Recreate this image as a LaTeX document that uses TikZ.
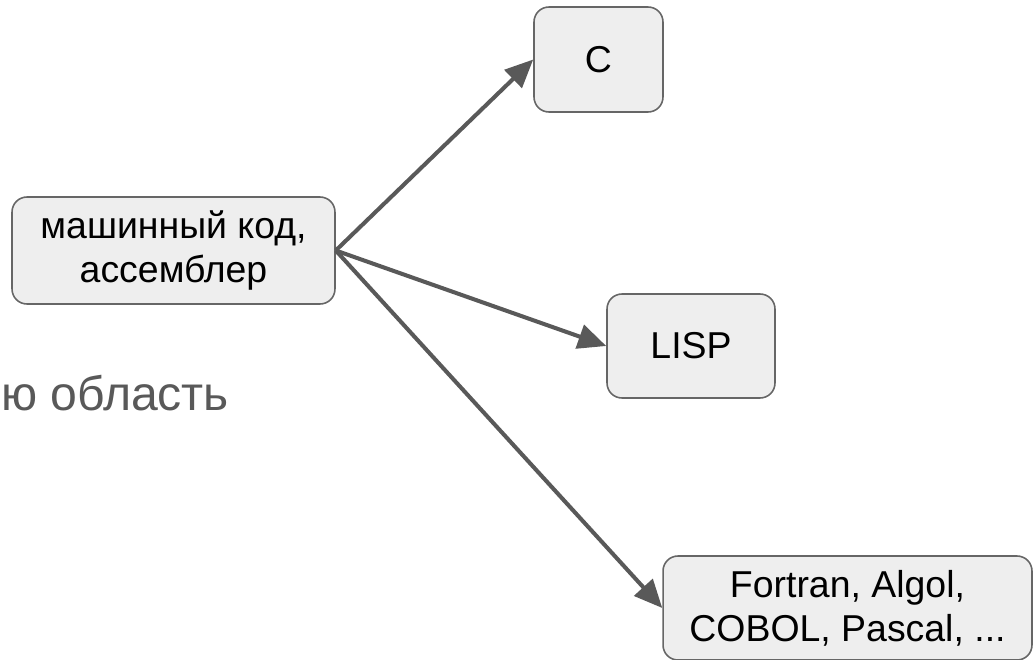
\documentclass[tikz,border=0pt]{standalone}
\usepackage{fontspec}
\setmainfont{Liberation Sans}
\usetikzlibrary{arrows.meta}
\definecolor{boxfill}{HTML}{EEEEEE}
\definecolor{boxline}{HTML}{666666}
\definecolor{arrowgray}{HTML}{595959}

\begin{document}
\begin{tikzpicture}[x=0.02cm,y=-0.02cm,
    lang node/.style={rectangle,rounded corners=8.5pt,draw=boxline,line width=0.9pt,fill=boxfill,align=center,inner sep=0pt,font=\fontsize{21.3}{25}\selectfont},
    link/.style={-{Triangle[length=16pt,width=14pt]},draw=arrowgray,line width=2.3pt}]

                \useasboundingbox (0,0) rectangle (1034,659);

                \node[lang node, minimum width=6.46cm, minimum height=2.14cm] (asm) at (173.5,250.5) {машинный код,\\ассемблер};
                \node[lang node, minimum width=2.58cm, minimum height=2.1cm] (c) at (598.5,59.5) {C};
                \node[lang node, minimum width=3.36cm, minimum height=2.08cm] (lisp) at (691,346) {LISP};
                \node[lang node, minimum width=7.38cm, minimum height=2.08cm] (fortran) at (847.5,608) {Fortran, Algol,\\COBOL, Pascal, ...};

                \node[text=arrowgray, anchor=base west, inner sep=0pt, font=\fontsize{27.4}{32}\selectfont] (area) at (1,410) {ю область};

                \path[every edge/.style={link,draw}]
                    (asm.east) edge (c.west)
                    (asm.east) edge (lisp.west)
                    (asm.east) edge (fortran.west)
                ;
\end{tikzpicture}
\end{document}
